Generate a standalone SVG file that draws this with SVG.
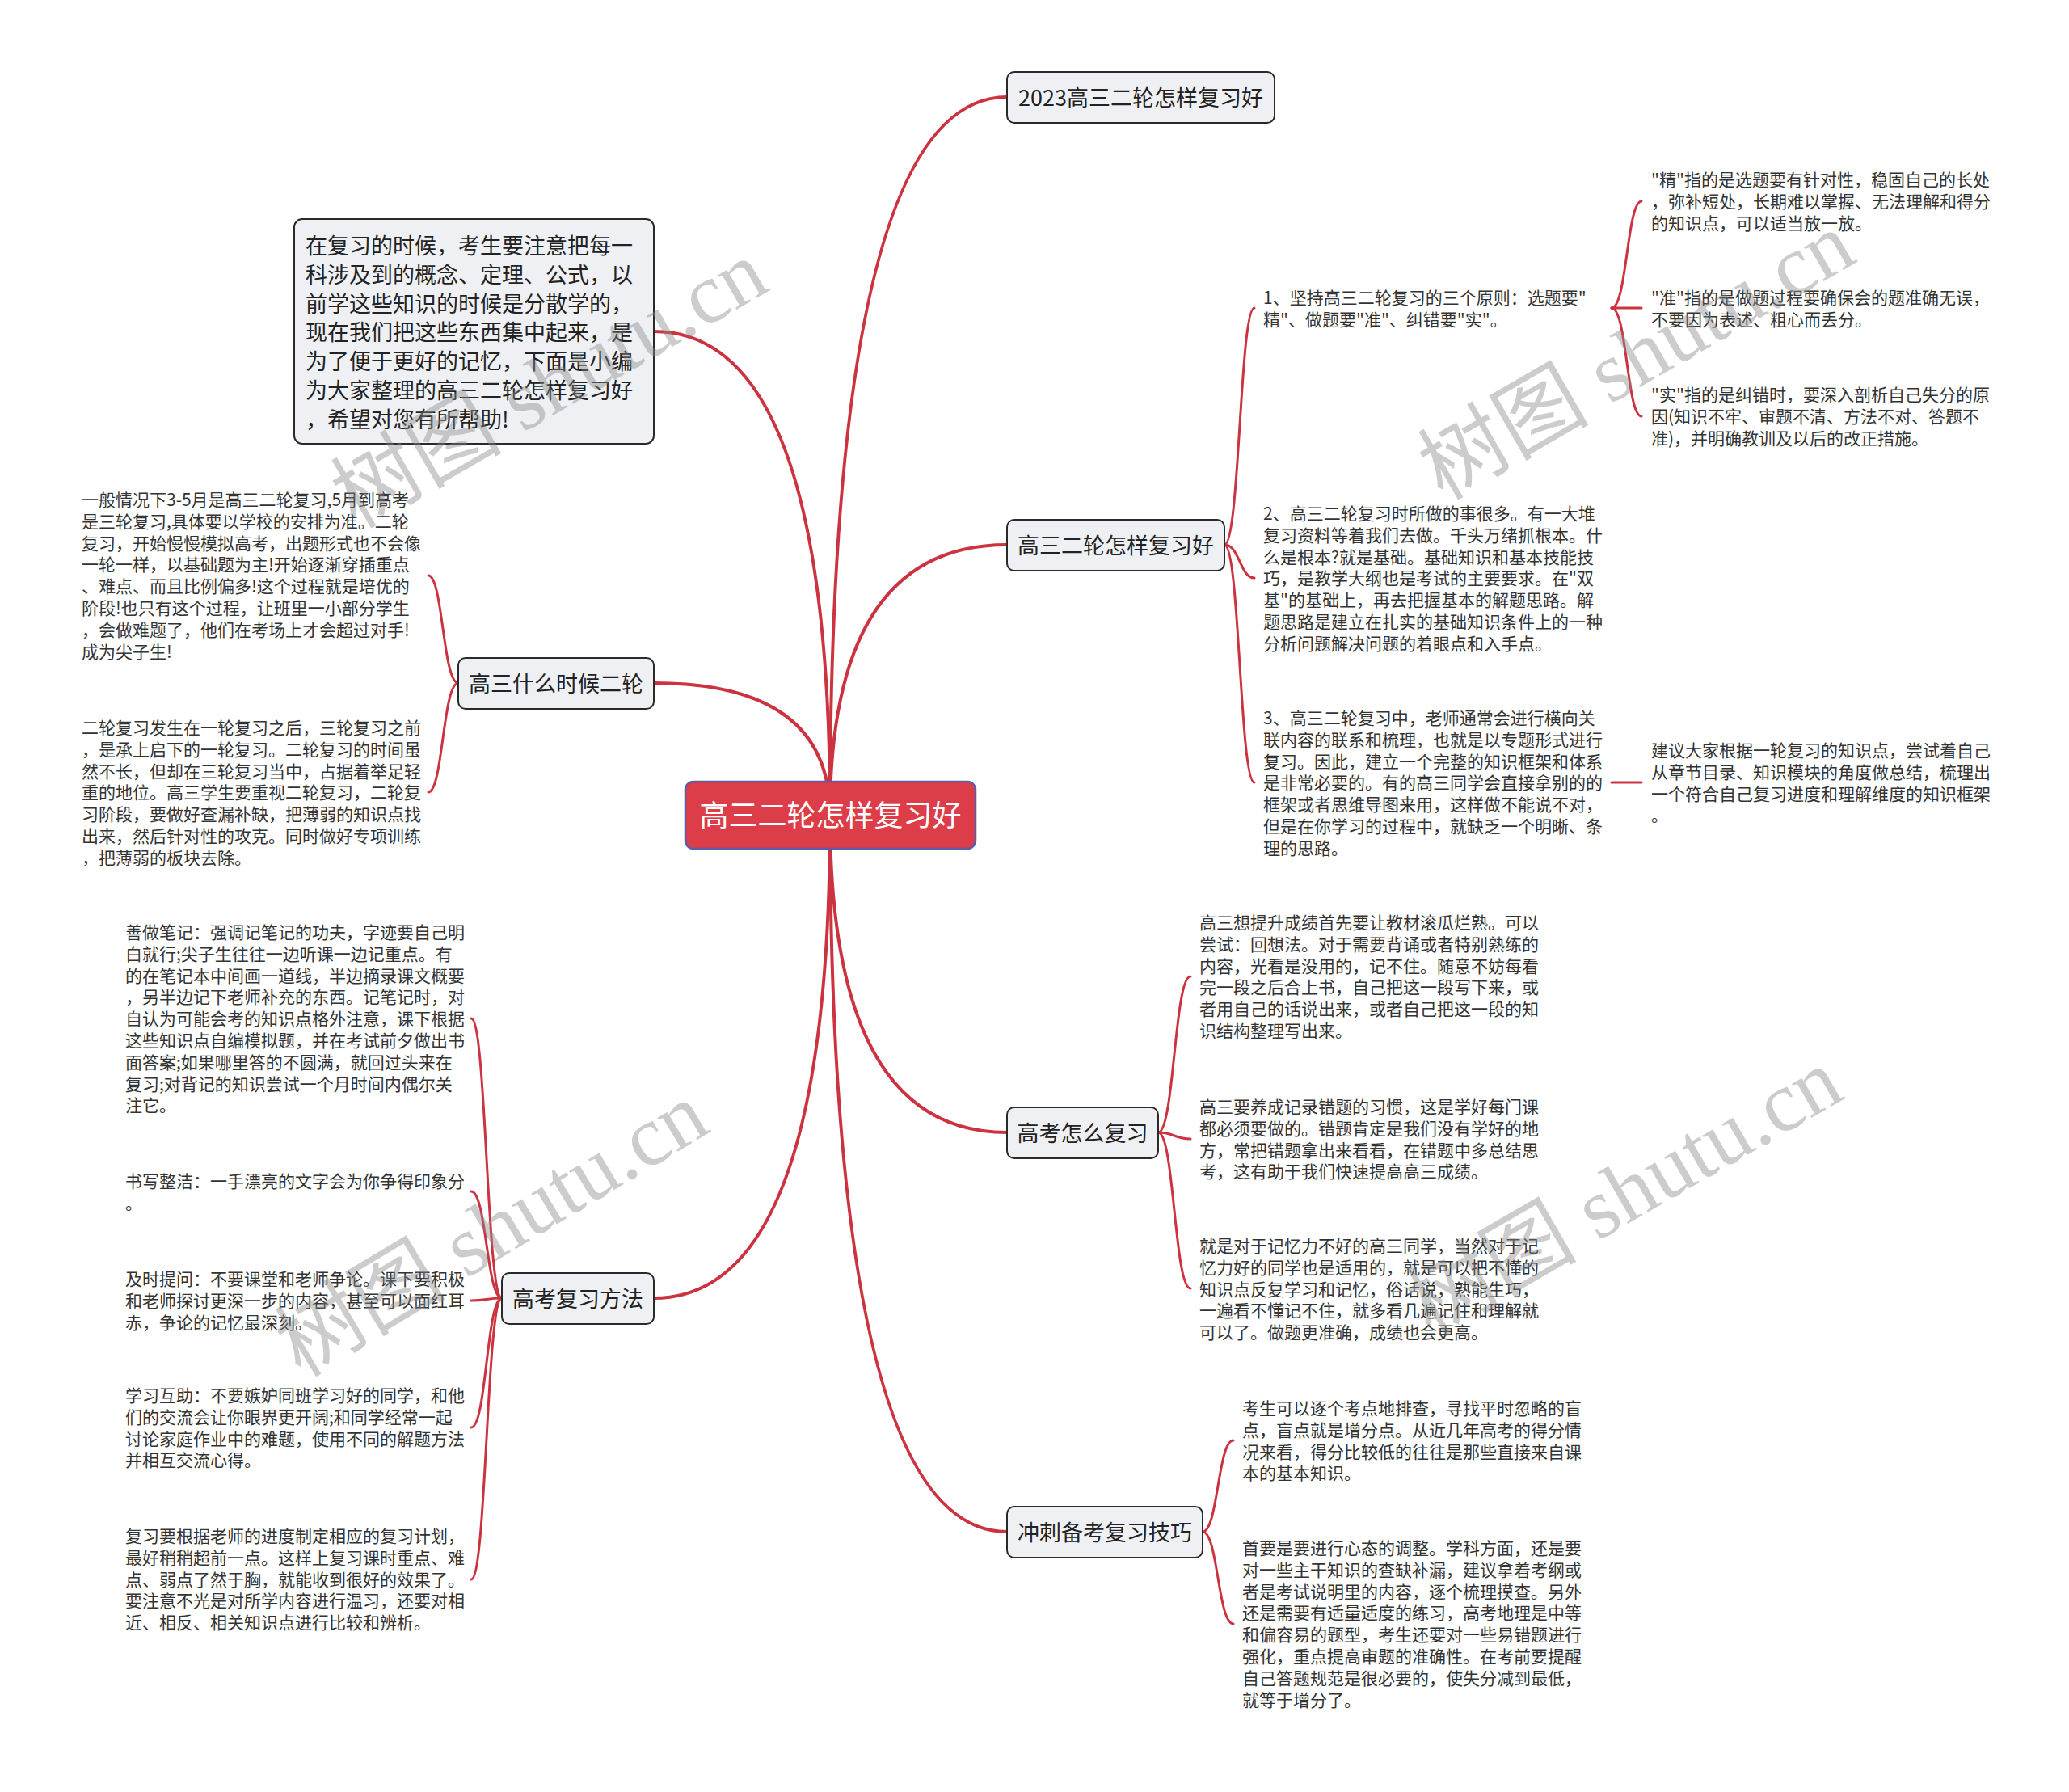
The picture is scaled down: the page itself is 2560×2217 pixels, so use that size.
<svg xmlns="http://www.w3.org/2000/svg" width="2560" height="2217" viewBox="0 0 2560 2217">
<style>
.bg{fill:#ffffff}
.main{fill:none;stroke:#cc3340;stroke-width:4;stroke-linecap:round}
.sub{fill:none;stroke:#cc3340;stroke-width:3;stroke-linecap:round}
.box{fill:#eef0f4;stroke:#2a2a2a;stroke-width:2}
.root{fill:#dc3d48;stroke:#5c5ca8;stroke-width:2.5}
.rt{font-family:"Noto Sans CJK SC","Noto Sans",sans-serif;font-size:36px;fill:#ffffff;text-anchor:middle}
.nt{font-family:"Noto Sans CJK SC","Noto Sans",sans-serif;font-size:27px;fill:#222222;text-anchor:middle}
.it{font-family:"Noto Sans CJK SC","Noto Sans",sans-serif;font-size:27px;fill:#222222}
.lt{font-family:"Noto Sans CJK SC","Noto Sans",sans-serif;font-size:21px;fill:#333333}
.wm{font-family:"Liberation Serif","Noto Sans CJK SC",serif;font-size:106px;fill:#888888;opacity:0.42}
</style>
<rect class="bg" x="0" y="0" width="2560" height="2217"/>
<g id="connectors">
<path class="main" d="M1027,1008 Q1027,120 1246,120"/>
<path class="main" d="M1027,1008 Q1027,674 1246,674"/>
<path class="main" d="M1027,1008 Q1027,1401 1246,1401"/>
<path class="main" d="M1027,1008 Q1027,1895 1246,1895"/>
<path class="main" d="M1027,1008 Q1027,410 809,410"/>
<path class="main" d="M1027,1008 Q1027,845 809,845"/>
<path class="main" d="M1027,1008 Q1027,1606 809,1606"/>
<path class="sub" d="M1515,674 C1534,674 1534,381 1552,381"/>
<path class="sub" d="M1515,674 C1534,674 1534,715 1552,715"/>
<path class="sub" d="M1515,674 C1534,674 1534,968 1552,968"/>
<path class="sub" d="M1994,381 C2013,381 2013,249 2031,249"/>
<path class="sub" d="M1994,381 L2031,381"/>
<path class="sub" d="M1994,381 C2013,381 2013,515 2031,515"/>
<path class="sub" d="M1994,968 L2031,968"/>
<path class="sub" d="M1433,1401 C1453,1401 1453,1208 1473,1208"/>
<path class="sub" d="M1433,1401 C1453,1401 1453,1409 1473,1409"/>
<path class="sub" d="M1433,1401 C1453,1401 1453,1594 1473,1594"/>
<path class="sub" d="M1488,1895 C1507,1895 1507,1782 1526,1782"/>
<path class="sub" d="M1488,1895 C1507,1895 1507,2009 1526,2009"/>
<path class="sub" d="M567,845 C548,845 548,712 530,712"/>
<path class="sub" d="M567,845 C548,845 548,980 530,980"/>
<path class="sub" d="M621,1606 C602,1606 602,1260 583,1260"/>
<path class="sub" d="M621,1606 C602,1606 602,1474 583,1474"/>
<path class="sub" d="M621,1606 C602,1606 602,1609 583,1609"/>
<path class="sub" d="M621,1606 C602,1606 602,1766 583,1766"/>
<path class="sub" d="M621,1606 C602,1606 602,1954 583,1954"/>
</g>
<g id="root">
<rect class="root" x="848" y="967" width="359" height="83" rx="10"/>
<text class="rt" x="1027.5" y="1022">高三二轮怎样复习好</text>
</g>
<g id="intro">
<rect class="box" x="364" y="271" width="445" height="278" rx="10"/>
<text class="it" x="378" y="314"><tspan x="378">在复习的时候，考生要注意把每一</tspan><tspan x="378" dy="35.8">科涉及到的概念、定理、公式，以</tspan><tspan x="378" dy="35.8">前学这些知识的时候是分散学的，</tspan><tspan x="378" dy="35.8">现在我们把这些东西集中起来，是</tspan><tspan x="378" dy="35.8">为了便于更好的记忆，下面是小编</tspan><tspan x="378" dy="35.8">为大家整理的高三二轮怎样复习好</tspan><tspan x="378" dy="35.8">，希望对您有所帮助!</tspan></text>
</g>
<g id="n2023">
<rect class="box" x="1246" y="89" width="331" height="63" rx="9"/>
<text class="nt" x="1411.5" y="131">2023高三二轮怎样复习好</text>
</g>
<g id="nHow">
<rect class="box" x="1246" y="643" width="269" height="63" rx="9"/>
<text class="nt" x="1380.5" y="684.5">高三二轮怎样复习好</text>
</g>
<g id="nGaokao">
<rect class="box" x="1246" y="1370" width="187" height="63" rx="9"/>
<text class="nt" x="1339.5" y="1411.5">高考怎么复习</text>
</g>
<g id="nSprint">
<rect class="box" x="1246" y="1864" width="242" height="63" rx="9"/>
<text class="nt" x="1367" y="1905.5">冲刺备考复习技巧</text>
</g>
<g id="nWhen">
<rect class="box" x="567" y="814" width="242" height="63" rx="9"/>
<text class="nt" x="688" y="855.5">高三什么时候二轮</text>
</g>
<g id="nMethod">
<rect class="box" x="621" y="1575" width="188" height="63" rx="9"/>
<text class="nt" x="715" y="1616.5">高考复习方法</text>
</g>
<g id="leafA">
<text class="lt" x="101" y="626"><tspan x="101">一般情况下3-5月是高三二轮复习,5月到高考</tspan><tspan x="101" dy="26.8">是三轮复习,具体要以学校的安排为准。二轮</tspan><tspan x="101" dy="26.8">复习，开始慢慢模拟高考，出题形式也不会像</tspan><tspan x="101" dy="26.8">一轮一样，以基础题为主!开始逐渐穿插重点</tspan><tspan x="101" dy="26.8">、难点、而且比例偏多!这个过程就是培优的</tspan><tspan x="101" dy="26.8">阶段!也只有这个过程，让班里一小部分学生</tspan><tspan x="101" dy="26.8">，会做难题了，他们在考场上才会超过对手!</tspan><tspan x="101" dy="26.8">成为尖子生!</tspan></text>
</g>
<g id="leafB">
<text class="lt" x="101" y="908"><tspan x="101">二轮复习发生在一轮复习之后，三轮复习之前</tspan><tspan x="101" dy="26.8">，是承上启下的一轮复习。二轮复习的时间虽</tspan><tspan x="101" dy="26.8">然不长，但却在三轮复习当中，占据着举足轻</tspan><tspan x="101" dy="26.8">重的地位。高三学生要重视二轮复习，二轮复</tspan><tspan x="101" dy="26.8">习阶段，要做好查漏补缺，把薄弱的知识点找</tspan><tspan x="101" dy="26.8">出来，然后针对性的攻克。同时做好专项训练</tspan><tspan x="101" dy="26.8">，把薄弱的板块去除。</tspan></text>
</g>
<g id="leafNote">
<text class="lt" x="155" y="1161"><tspan x="155">善做笔记：强调记笔记的功夫，字迹要自己明</tspan><tspan x="155" dy="26.8">白就行;尖子生往往一边听课一边记重点。有</tspan><tspan x="155" dy="26.8">的在笔记本中间画一道线，半边摘录课文概要</tspan><tspan x="155" dy="26.8">，另半边记下老师补充的东西。记笔记时，对</tspan><tspan x="155" dy="26.8">自认为可能会考的知识点格外注意，课下根据</tspan><tspan x="155" dy="26.8">这些知识点自编模拟题，并在考试前夕做出书</tspan><tspan x="155" dy="26.8">面答案;如果哪里答的不圆满，就回过头来在</tspan><tspan x="155" dy="26.8">复习;对背记的知识尝试一个月时间内偶尔关</tspan><tspan x="155" dy="26.8">注它。</tspan></text>
</g>
<g id="leafWrite">
<text class="lt" x="155" y="1469"><tspan x="155">书写整洁：一手漂亮的文字会为你争得印象分</tspan><tspan x="155" dy="26.8">。</tspan></text>
</g>
<g id="leafAsk">
<text class="lt" x="155" y="1590"><tspan x="155">及时提问：不要课堂和老师争论。课下要积极</tspan><tspan x="155" dy="26.8">和老师探讨更深一步的内容，甚至可以面红耳</tspan><tspan x="155" dy="26.8">赤，争论的记忆最深刻。</tspan></text>
</g>
<g id="leafHelp">
<text class="lt" x="155" y="1734"><tspan x="155">学习互助：不要嫉妒同班学习好的同学，和他</tspan><tspan x="155" dy="26.8">们的交流会让你眼界更开阔;和同学经常一起</tspan><tspan x="155" dy="26.8">讨论家庭作业中的难题，使用不同的解题方法</tspan><tspan x="155" dy="26.8">并相互交流心得。</tspan></text>
</g>
<g id="leafPlan">
<text class="lt" x="155" y="1908"><tspan x="155">复习要根据老师的进度制定相应的复习计划，</tspan><tspan x="155" dy="26.8">最好稍稍超前一点。这样上复习课时重点、难</tspan><tspan x="155" dy="26.8">点、弱点了然于胸，就能收到很好的效果了。</tspan><tspan x="155" dy="26.8">要注意不光是对所学内容进行温习，还要对相</tspan><tspan x="155" dy="26.8">近、相反、相关知识点进行比较和辨析。</tspan></text>
</g>
<g id="leaf1">
<text class="lt" x="1563" y="376"><tspan x="1563">1、坚持高三二轮复习的三个原则：选题要"</tspan><tspan x="1563" dy="26.8">精"、做题要"准"、纠错要"实"。</tspan></text>
</g>
<g id="leafJing">
<text class="lt" x="2043" y="230"><tspan x="2043">"精"指的是选题要有针对性，稳固自己的长处</tspan><tspan x="2043" dy="26.8">，弥补短处，长期难以掌握、无法理解和得分</tspan><tspan x="2043" dy="26.8">的知识点，可以适当放一放。</tspan></text>
</g>
<g id="leafZhun">
<text class="lt" x="2043" y="376"><tspan x="2043">"准"指的是做题过程要确保会的题准确无误，</tspan><tspan x="2043" dy="26.8">不要因为表述、粗心而丢分。</tspan></text>
</g>
<g id="leafShi">
<text class="lt" x="2043" y="496"><tspan x="2043">"实"指的是纠错时，要深入剖析自己失分的原</tspan><tspan x="2043" dy="26.8">因(知识不牢、审题不清、方法不对、答题不</tspan><tspan x="2043" dy="26.8">准)，并明确教训及以后的改正措施。</tspan></text>
</g>
<g id="leaf2">
<text class="lt" x="1563" y="643"><tspan x="1563">2、高三二轮复习时所做的事很多。有一大堆</tspan><tspan x="1563" dy="26.8">复习资料等着我们去做。千头万绪抓根本。什</tspan><tspan x="1563" dy="26.8">么是根本?就是基础。基础知识和基本技能技</tspan><tspan x="1563" dy="26.8">巧，是教学大纲也是考试的主要要求。在"双</tspan><tspan x="1563" dy="26.8">基"的基础上，再去把握基本的解题思路。解</tspan><tspan x="1563" dy="26.8">题思路是建立在扎实的基础知识条件上的一种</tspan><tspan x="1563" dy="26.8">分析问题解决问题的着眼点和入手点。</tspan></text>
</g>
<g id="leaf3">
<text class="lt" x="1563" y="896"><tspan x="1563">3、高三二轮复习中，老师通常会进行横向关</tspan><tspan x="1563" dy="26.8">联内容的联系和梳理，也就是以专题形式进行</tspan><tspan x="1563" dy="26.8">复习。因此，建立一个完整的知识框架和体系</tspan><tspan x="1563" dy="26.8">是非常必要的。有的高三同学会直接拿别的的</tspan><tspan x="1563" dy="26.8">框架或者思维导图来用，这样做不能说不对，</tspan><tspan x="1563" dy="26.8">但是在你学习的过程中，就缺乏一个明晰、条</tspan><tspan x="1563" dy="26.8">理的思路。</tspan></text>
</g>
<g id="leafSuggest">
<text class="lt" x="2043" y="936"><tspan x="2043">建议大家根据一轮复习的知识点，尝试着自己</tspan><tspan x="2043" dy="26.8">从章节目录、知识模块的角度做总结，梳理出</tspan><tspan x="2043" dy="26.8">一个符合自己复习进度和理解维度的知识框架</tspan><tspan x="2043" dy="26.8">。</tspan></text>
</g>
<g id="leafRecall">
<text class="lt" x="1484" y="1149"><tspan x="1484">高三想提升成绩首先要让教材滚瓜烂熟。可以</tspan><tspan x="1484" dy="26.8">尝试：回想法。对于需要背诵或者特别熟练的</tspan><tspan x="1484" dy="26.8">内容，光看是没用的，记不住。随意不妨每看</tspan><tspan x="1484" dy="26.8">完一段之后合上书，自己把这一段写下来，或</tspan><tspan x="1484" dy="26.8">者用自己的话说出来，或者自己把这一段的知</tspan><tspan x="1484" dy="26.8">识结构整理写出来。</tspan></text>
</g>
<g id="leafErrors">
<text class="lt" x="1484" y="1377"><tspan x="1484">高三要养成记录错题的习惯，这是学好每门课</tspan><tspan x="1484" dy="26.8">都必须要做的。错题肯定是我们没有学好的地</tspan><tspan x="1484" dy="26.8">方，常把错题拿出来看看，在错题中多总结思</tspan><tspan x="1484" dy="26.8">考，这有助于我们快速提高高三成绩。</tspan></text>
</g>
<g id="leafRepeat">
<text class="lt" x="1484" y="1549"><tspan x="1484">就是对于记忆力不好的高三同学，当然对于记</tspan><tspan x="1484" dy="26.8">忆力好的同学也是适用的，就是可以把不懂的</tspan><tspan x="1484" dy="26.8">知识点反复学习和记忆，俗话说，熟能生巧，</tspan><tspan x="1484" dy="26.8">一遍看不懂记不住，就多看几遍记住和理解就</tspan><tspan x="1484" dy="26.8">可以了。做题更准确，成绩也会更高。</tspan></text>
</g>
<g id="leafBlind">
<text class="lt" x="1537" y="1750"><tspan x="1537">考生可以逐个考点地排查，寻找平时忽略的盲</tspan><tspan x="1537" dy="26.8">点，盲点就是增分点。从近几年高考的得分情</tspan><tspan x="1537" dy="26.8">况来看，得分比较低的往往是那些直接来自课</tspan><tspan x="1537" dy="26.8">本的基本知识。</tspan></text>
</g>
<g id="leafMind">
<text class="lt" x="1537" y="1923"><tspan x="1537">首要是要进行心态的调整。学科方面，还是要</tspan><tspan x="1537" dy="26.8">对一些主干知识的查缺补漏，建议拿着考纲或</tspan><tspan x="1537" dy="26.8">者是考试说明里的内容，逐个梳理摸查。另外</tspan><tspan x="1537" dy="26.8">还是需要有适量适度的练习，高考地理是中等</tspan><tspan x="1537" dy="26.8">和偏容易的题型，考生还要对一些易错题进行</tspan><tspan x="1537" dy="26.8">强化，重点提高审题的准确性。在考前要提醒</tspan><tspan x="1537" dy="26.8">自己答题规范是很必要的，使失分减到最低，</tspan><tspan x="1537" dy="26.8">就等于增分了。</tspan></text>
</g>
<g id="watermark">
<text class="wm" transform="translate(440,655) rotate(-30)">树图 shutu.cn</text>
<text class="wm" transform="translate(1785,620) rotate(-30)">树图 shutu.cn</text>
<text class="wm" transform="translate(372,1705) rotate(-31)">树图 shutu.cn</text>
<text class="wm" transform="translate(1770,1655) rotate(-30)">树图 shutu.cn</text>
</g>
</svg>
